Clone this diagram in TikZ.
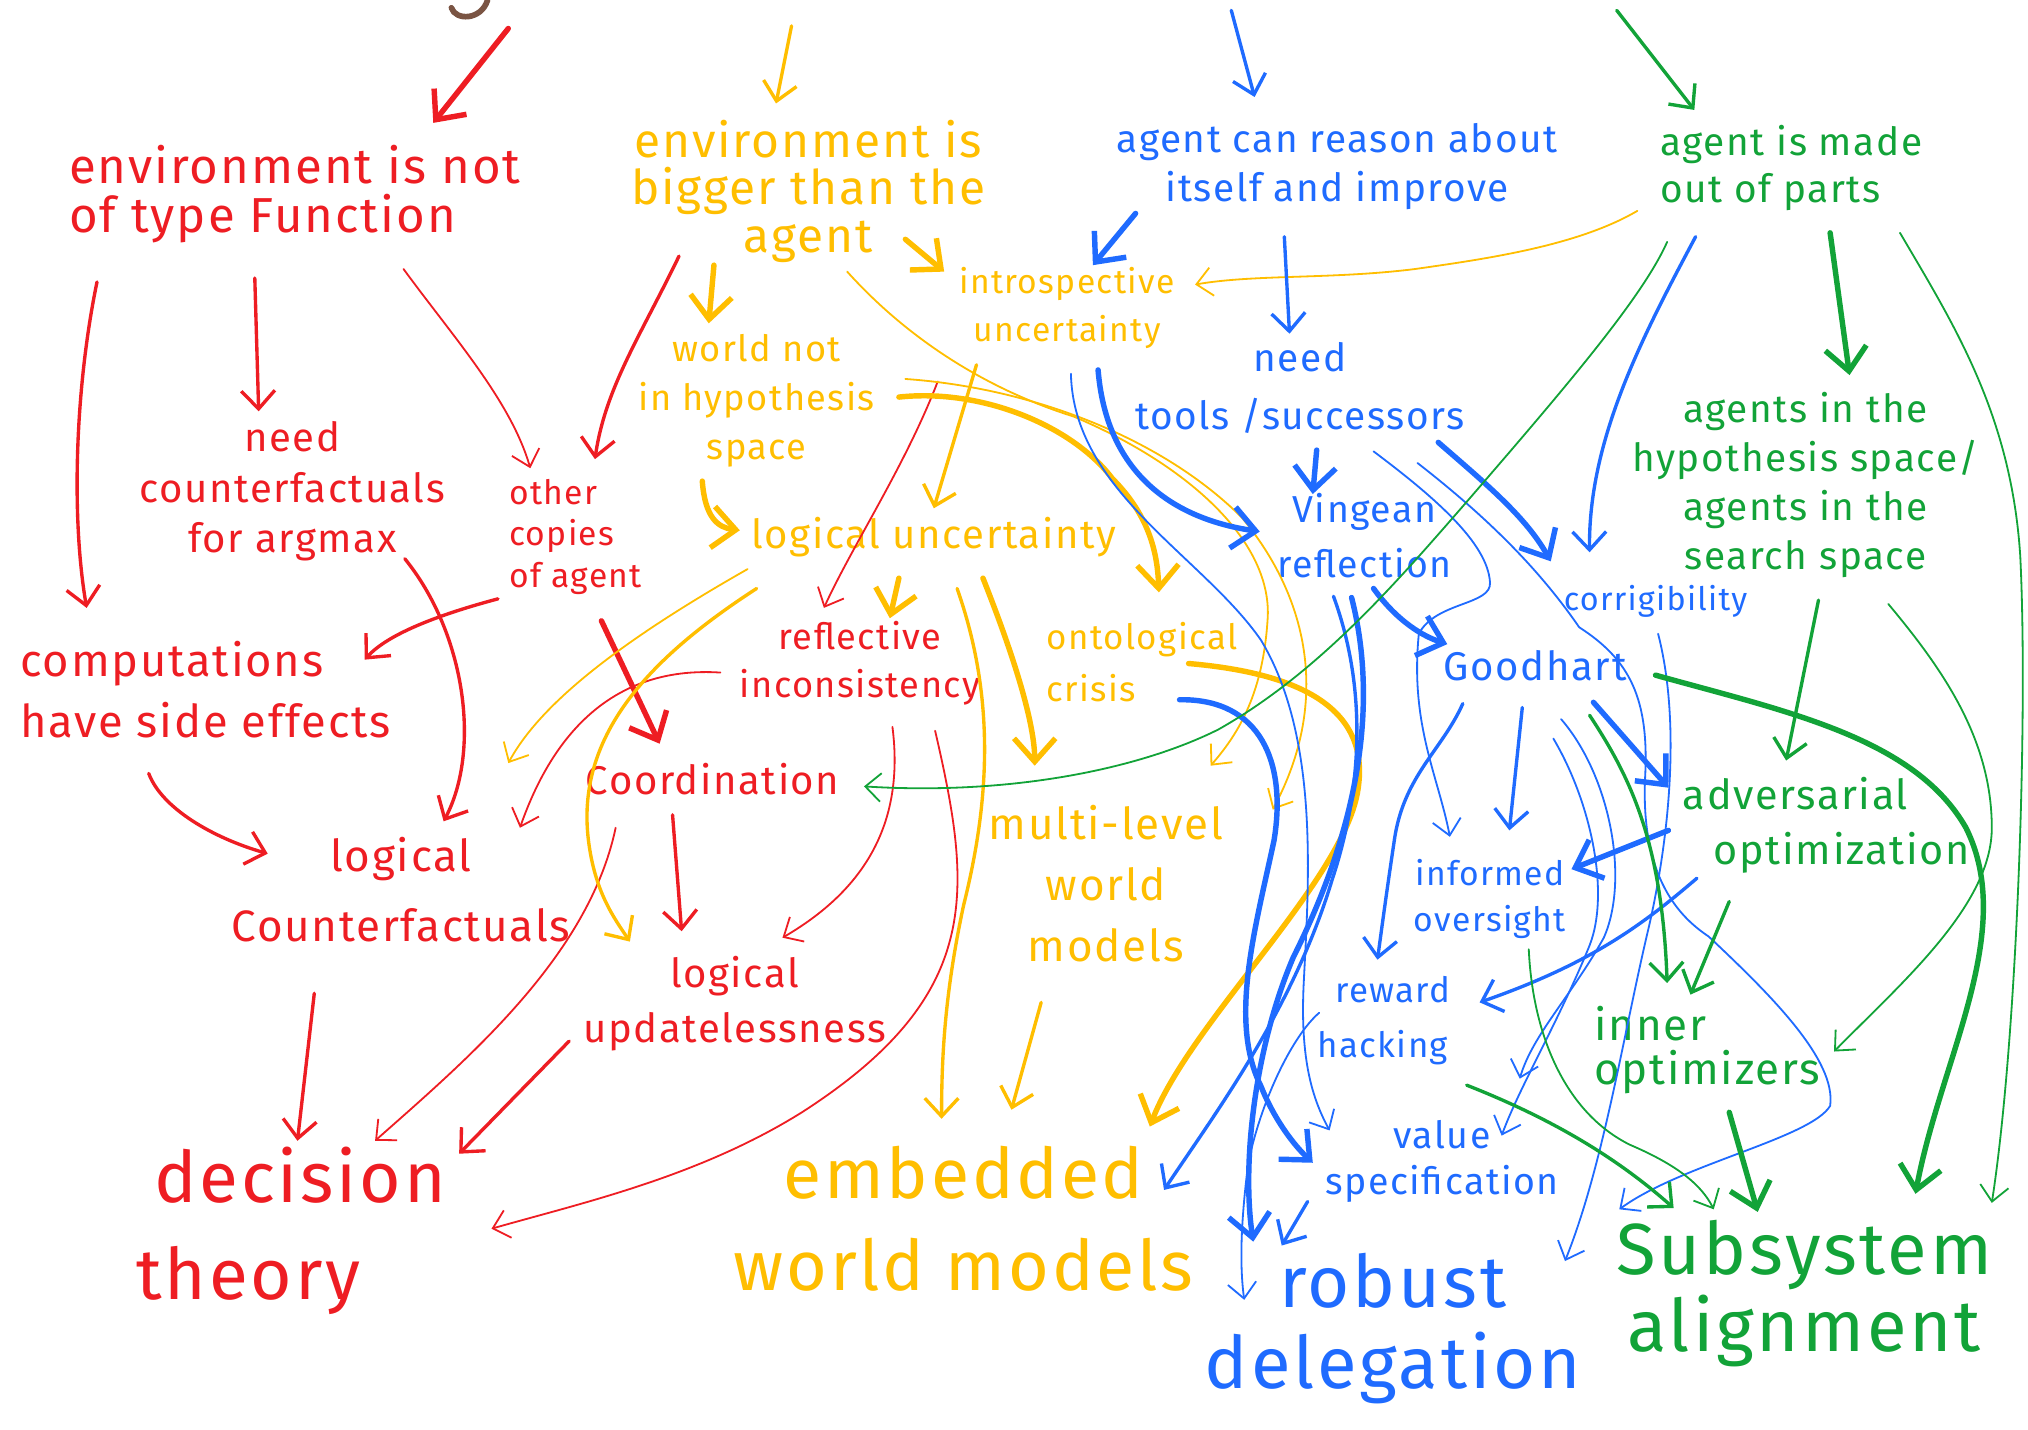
\documentclass[tikz,border=0pt]{standalone}
\usepackage{fontspec}
\setmainfont{Fira Sans}[LetterSpace=4.0]
\usetikzlibrary{arrows.meta,calc}
\definecolor{cred}{HTML}{EE1D23}
\definecolor{cyel}{HTML}{FFBE00}
\definecolor{cblue}{HTML}{1F6BFF}
\definecolor{cgreen}{HTML}{12A338}
\definecolor{cbrown}{HTML}{7A5443}
\newcommand{\myfs}[2]{\fontsize{#1}{#2}\selectfont}
\tikzset{
 lbl/.style={inner sep=0pt, align=center},
 th/.style={line width=2.1pt, line cap=round, line join=round, -{Straight Barb[length=9pt,width=16pt]}},
 md/.style={line width=1.3pt, line cap=round, line join=round, -{Straight Barb[length=7pt,width=13pt]}},
 tn/.style={line width=0.7pt, line cap=round, line join=round, -{Straight Barb[length=6pt,width=11pt]}},
}
\begin{document}
\begin{tikzpicture}[x=0.5pt,y=-0.5pt]
\fill[white] (0,0) rectangle (1568,1105);
\path[use as bounding box] (0,0) rectangle (1568,1105);

% ---------- red nodes
\node[lbl,text=cred,align=left,font=\myfs{19}{19}] (envnot) at (228,150) {environment is not\\of type Function};
\node[lbl,text=cred,font=\myfs{15.5}{19.5}] (needcf) at (226,380) {need\\counterfactuals\\for argmax};
\node[lbl,text=cred,align=left,font=\myfs{13}{16}] (copies) at (445,415) {other\\copies\\of agent};
\node[lbl,text=cred,align=left,font=\myfs{17.5}{23.5}] (comp) at (159,533) {computations\\have side effects};
\node[lbl,text=cred,font=\myfs{17}{27}] (logcf) at (310,688) {logical\\Counterfactuals};
\node[lbl,text=cred,font=\myfs{14}{18.5}] (reflinc) at (665,513) {reflective\\inconsistency};
\node[lbl,text=cred,font=\myfs{15.5}{19}] (coord) at (551,602) {Coordination};
\node[lbl,text=cred,font=\myfs{15.5}{21}] (logupd) at (568,776) {logical\\updatelessness};
\node[lbl,text=cred,align=left,font=\myfs{27.5}{37.5}] (dect) at (225,952) {\hspace*{7pt}decision\\theory};

% ---------- yellow nodes
\node[lbl,text=cyel,font=\myfs{18.5}{18.5}] (envbig) at (625,148) {environment is\\bigger than the\\agent};
\node[lbl,text=cyel,font=\myfs{13}{18.5}] (introsp) at (825,238) {introspective\\uncertainty};
\node[lbl,text=cyel,font=\myfs{14}{19}] (worldnot) at (585,310) {world not\\in hypothesis\\space};
\node[lbl,text=cyel,font=\myfs{15.5}{19}] (logunc) at (722,415) {logical uncertainty};
\node[lbl,text=cyel,align=left,font=\myfs{13.5}{20}] (onto) at (883,512) {ontological\\crisis};
\node[lbl,text=cyel,font=\myfs{17}{23.5}] (multi) at (855,683) {multi-level\\world\\models};
\node[lbl,text=cyel,font=\myfs{27}{35.5}] (embed) at (745,942) {embedded\\world models};

% ---------- blue nodes
\node[lbl,text=cblue,font=\myfs{15}{19}] (reason) at (1034,129) {agent can reason about\\itself and improve};
\node[lbl,text=cblue,font=\myfs{15}{22.5}] (tools) at (1005,300) {need\\tools /successors};
\node[lbl,text=cblue,font=\myfs{14.5}{21}] (vinge) at (1055,414) {Vingean\\reflection};
\node[lbl,text=cblue,font=\myfs{12.5}{16}] (corrig) at (1280,465) {corrigibility};
\node[lbl,text=cblue,font=\myfs{15.5}{19}] (good) at (1187,515) {Goodhart};
\node[lbl,text=cblue,font=\myfs{13}{18}] (inform) at (1152,695) {informed\\oversight};
\node[lbl,text=cblue,align=left,font=\myfs{13.5}{21}] (reward) at (1070,789) {\hspace*{7pt}reward\\hacking};
\node[lbl,text=cblue,font=\myfs{14.5}{17.5}] (valsp) at (1115,898) {value\\specification};
\node[lbl,text=cblue,font=\myfs{28}{31.5}] (robust) at (1077,1027) {robust\\delegation};

% ---------- green nodes
\node[lbl,text=cgreen,align=left,font=\myfs{15}{18}] (parts) at (1385,130) {agent is made\\out of parts};
\node[lbl,text=cgreen,font=\myfs{15}{19}] (hyp) at (1396,375) {agents in the\\hypothesis space/\\agents in the\\search space};
\node[lbl,text=cgreen,align=left,font=\myfs{16}{21.5}] (adv) at (1412,638) {adversarial\\\hspace*{12pt}optimization};
\node[lbl,text=cgreen,align=left,font=\myfs{17}{17}] (inner) at (1320,812) {inner\\optimizers};
\node[lbl,text=cgreen,font=\myfs{28}{30}] (subsys) at (1395,1000) {Subsystem\\alignment};

% ---------- free ends at the top edge
\coordinate (topR) at (393,22);
\coordinate (topY) at (612,20);
\coordinate (topB) at (952,8);
\coordinate (topG) at (1250,8);
\coordinate (brA) at (349,6);
\coordinate (brB) at (377,0);
\draw[cbrown,line width=2.2pt,line cap=round] (brA) .. controls (352,16) and (372,16) .. (brB);

% ---------- red connectors
\draw[cred,th] (topR) -- ($(envnot)+(107,-55)$);
\draw[cred,md] ($(envnot)+(-153,68)$) .. controls (58,300) and (55,400) .. ($(comp)+(-92,-63)$);
\draw[cred,md] ($(envnot)+(-31,65)$) -- ($(needcf)+(-26,-62)$);
\draw[cred,tn] ($(envnot)+(84,58)$) .. controls (350,260) and (395,310) .. ($(copies)+(-35,-53)$);
\draw[cred,md] ($(envbig)+(-100,50)$) .. controls (495,260) and (468,300) .. ($(copies)+(15,-60)$);
\draw[cred,md] ($(copies)+(-60,48)$) .. controls (340,475) and (300,490) .. ($(comp)+(123,-23)$);
\draw[cred,md] ($(needcf)+(87,52)$) .. controls (360,490) and (372,580) .. ($(logcf)+(33,-53)$);
\draw[cred,md] ($(comp)+(-44,65)$) .. controls (125,625) and (165,648) .. ($(logcf)+(-103,-28)$);
\draw[cred,th] ($(copies)+(20,65)$) -- ($(coord)+(-41,-27)$);
\draw[cred,tn] ($(reflinc)+(-108,7)$) .. controls (480,515) and (430,560) .. ($(logcf)+(92,-48)$);
\draw[cred,tn] ($(worldnot)+(140,-15)$) .. controls (700,360) and (660,420) .. ($(reflinc)+(-28,-43)$);
\draw[cred,tn] ($(reflinc)+(25,49)$) .. controls (700,640) and (665,690) .. ($(logupd)+(37,-51)$);
\draw[cred,md] ($(coord)+(-31,28)$) -- ($(logupd)+(-41,-56)$);
\draw[cred,tn] ($(coord)+(-75,38)$) .. controls (455,740) and (360,820) .. ($(dect)+(65,-70)$);
\draw[cred,md] ($(logupd)+(-128,29)$) -- ($(dect)+(130,-60)$);
\draw[cred,md] ($(logcf)+(-67,80)$) -- ($(dect)+(5,-70)$);
\draw[cred,tn] ($(reflinc)+(58,52)$) .. controls (752,690) and (760,770) .. (620,860) .. controls (540,910) and (450,930) .. ($(dect)+(155,-2)$);

% ---------- yellow connectors
\draw[cyel,md] (topY) -- ($(envbig)+(-25,-68)$);
\draw[cyel,th] ($(envbig)+(75,37)$) -- ($(introsp)+(-95,-28)$);
\draw[cyel,th] ($(envbig)+(-73,57)$) -- ($(worldnot)+(-37,-60)$);
\draw[cyel,th] ($(worldnot)+(-42,62)$) .. controls (545,400) and (555,408) .. ($(logunc)+(-150,-5)$);
\draw[cyel,md] ($(introsp)+(-70,44)$) -- ($(logunc)+(0,-22)$);
\draw[cyel,tn] ($(envbig)+(30,62)$) .. controls (700,260) and (760,300) .. (830,322) .. controls (920,360) and (985,420) .. (980,480) .. controls (976,540) and (955,570) .. ($(multi)+(81,-91)$);
\draw[cyel,th] ($(worldnot)+(110,-3)$) .. controls (760,300) and (830,330) .. (860,370) .. controls (890,400) and (895,430) .. ($(onto)+(13,-54)$);
\draw[cyel,tn] ($(worldnot)+(115,-17)$) .. controls (800,300) and (900,340) .. (960,400) .. controls (1010,460) and (1030,540) .. ($(multi)+(129,-57)$);
\draw[cyel,th] ($(onto)+(36,1)$) .. controls (1000,520) and (1060,545) .. (1050,610) .. controls (1040,680) and (920,790) .. ($(embed)+(144,-71)$);
\draw[cyel,tn] ($(parts)+(-119,33)$) .. controls (1220,190) and (1150,200) .. (1094,208) .. controls (1030,216) and (970,212) .. ($(introsp)+(99,-18)$);
\draw[cyel,th] ($(logunc)+(-27,32)$) -- ($(reflinc)+(23,-35)$);
\draw[cyel,tn] ($(logunc)+(-144,25)$) .. controls (490,490) and (420,540) .. ($(logcf)+(83,-98)$);
\draw[cyel,md] ($(logunc)+(-137,40)$) .. controls (500,510) and (445,570) .. (455,650) .. controls (460,690) and (475,710) .. ($(logupd)+(-81,-48)$);
\draw[cyel,th] ($(logunc)+(38,32)$) .. controls (785,510) and (800,560) .. ($(multi)+(-55,-91)$);
\draw[cyel,md] ($(logunc)+(18,40)$) .. controls (770,540) and (765,620) .. (745,700) .. controls (730,770) and (728,820) .. ($(embed)+(-17,-77)$);
\draw[cyel,md] ($(multi)+(-50,92)$) -- ($(embed)+(37,-84)$);

% ---------- blue connectors
\draw[cblue,md] (topB) -- ($(reason)+(-64,-54)$);
\draw[cblue,th] ($(reason)+(-156,36)$) -- ($(introsp)+(20,-33)$);
\draw[cblue,md] ($(reason)+(-41,54)$) -- ($(tools)+(-8,-42)$);
\draw[cblue,th] ($(tools)+(13,48)$) -- ($(vinge)+(-40,-32)$);
\draw[cblue,th] ($(tools)+(107,42)$) .. controls (1150,375) and (1180,400) .. ($(corrig)+(-81,-31)$);
\draw[cblue,md] ($(parts)+(-74,53)$) .. controls (1270,260) and (1228,340) .. ($(corrig)+(-51,-38)$);
\draw[cblue,th] ($(introsp)+(24,48)$) .. controls (855,360) and (900,400) .. ($(vinge)+(-81,-3)$);
\draw[cblue,tn] ($(introsp)+(3,51)$) .. controls (830,380) and (930,430) .. (975,495) .. controls (1020,570) and (1012,680) .. (1008,760) .. controls (1005,820) and (1015,850) .. ($(valsp)+(-87,-24)$);
\draw[cblue,th] ($(onto)+(29,29)$) .. controls (975,540) and (995,590) .. (985,650) .. controls (970,720) and (950,790) .. (975,840) .. controls (985,865) and (1000,885) .. ($(robust)+(-62,-128)$);
\draw[cblue,md] ($(vinge)+(-24,47)$) .. controls (1060,540) and (1050,620) .. (1030,680) .. controls (1000,780) and (940,860) .. ($(embed)+(155,-22)$);
\draw[cblue,th] ($(vinge)+(-10,48)$) .. controls (1070,560) and (1040,660) .. (1000,740) .. controls (970,810) and (960,900) .. ($(robust)+(-108,-67)$);
\draw[cblue,th] ($(vinge)+(7,41)$) .. controls (1080,480) and (1100,492) .. ($(good)+(-68,-17)$);
\draw[cblue,tn] ($(tools)+(57,49)$) .. controls (1110,385) and (1150,420) .. (1152,450) .. controls (1154,468) and (1110,465) .. (1097,490) .. controls (1090,560) and (1112,600) .. ($(inform)+(-31,-48)$);
\draw[cblue,md] ($(good)+(-10,32)$) -- ($(inform)+(15,-53)$);
\draw[cblue,md] ($(good)+(-56,29)$) .. controls (1115,580) and (1085,600) .. (1078,650) .. controls (1072,690) and (1068,720) .. ($(reward)+(-5,-47)$);
\draw[cblue,th] ($(good)+(45,28)$) -- ($(adv)+(-122,-29)$);
\draw[cblue,tn] ($(good)+(20,41)$) .. controls (1245,600) and (1260,680) .. (1240,725) .. controls (1215,770) and (1185,800) .. ($(valsp)+(60,-64)$);
\draw[cblue,tn] ($(good)+(14,56)$) .. controls (1230,620) and (1245,690) .. (1229,731) .. controls (1205,790) and (1175,840) .. ($(valsp)+(46,-20)$);
\draw[cblue,th] ($(adv)+(-122,4)$) -- ($(inform)+(63,-23)$);
\draw[cblue,md] ($(adv)+(-100,41)$) .. controls (1270,715) and (1230,745) .. ($(reward)+(74,-14)$);
\draw[cblue,tn] ($(corrig)+(2,25)$) .. controls (1300,560) and (1290,650) .. (1275,716) .. controls (1255,800) and (1240,900) .. ($(robust)+(133,-52)$);
\draw[cblue,tn] ($(tools)+(91,58)$) .. controls (1150,400) and (1190,440) .. (1221,485) .. controls (1260,510) and (1275,540) .. (1272,600) .. controls (1268,680) and (1300,710) .. (1321,724) .. controls (1370,770) and (1420,820) .. (1415,855) .. controls (1400,880) and (1300,900) .. ($(subsys)+(-143,-65)$);
\draw[cblue,tn] ($(reward)+(-50,-6)$) .. controls (1000,800) and (975,850) .. (965,900) .. controls (960,940) and (958,975) .. ($(robust)+(-115,-22)$);
\draw[cblue,md] ($(valsp)+(-104,31)$) -- ($(robust)+(-86,-64)$);

% ---------- green connectors
\draw[cgreen,md] (topG) -- ($(parts)+(-75,-45)$);
\draw[cgreen,th] ($(parts)+(30,50)$) -- ($(hyp)+(34,-85)$);
\draw[cgreen,tn] ($(parts)+(-96,57)$) .. controls (1270,230) and (1210,300) .. (1134,388) .. controls (1080,450) and (1020,520) .. (942,564) .. controls (880,595) and (780,615) .. ($(coord)+(117,6)$);
\draw[cgreen,tn] ($(parts)+(84,50)$) .. controls (1510,250) and (1555,320) .. (1562,430) .. controls (1568,550) and (1560,800) .. ($(subsys)+(145,-70)$);
\draw[cgreen,md] ($(hyp)+(10,89)$) -- ($(adv)+(-31,-50)$);
\draw[cgreen,tn] ($(hyp)+(64,92)$) .. controls (1500,515) and (1540,570) .. (1540,640) .. controls (1540,700) and (1470,760) .. ($(inner)+(98,1)$);
\draw[cgreen,th] ($(good)+(93,7)$) .. controls (1380,550) and (1480,570) .. (1520,640) .. controls (1560,720) and (1500,820) .. ($(subsys)+(86,-77)$);
\draw[cgreen,md] ($(good)+(42,38)$) .. controls (1260,600) and (1285,650) .. ($(inner)+(-31,-52)$);
\draw[cgreen,md] ($(adv)+(-75,59)$) -- ($(inner)+(-13,-43)$);
\draw[cgreen,md] ($(reward)+(64,50)$) .. controls (1200,865) and (1250,895) .. ($(subsys)+(-101,-66)$);
\draw[cgreen,tn] ($(inform)+(30,39)$) .. controls (1185,800) and (1210,860) .. (1260,885) .. controls (1295,900) and (1315,915) .. ($(subsys)+(-70,-65)$);
\draw[cgreen,th] ($(inner)+(17,48)$) -- ($(subsys)+(-36,-63)$);
\end{tikzpicture}
\end{document}
